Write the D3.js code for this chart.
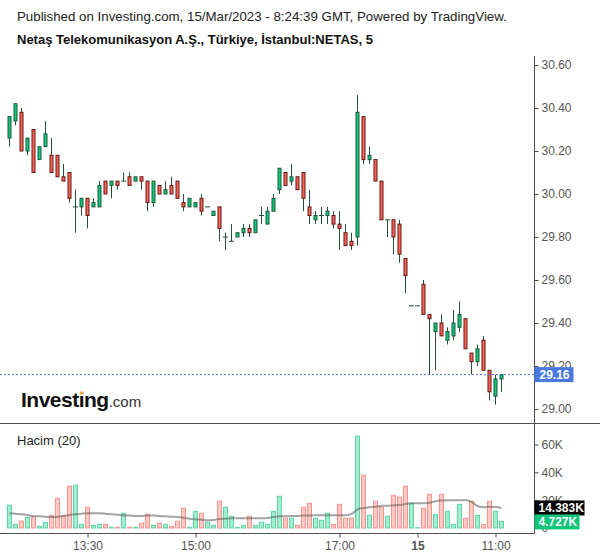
<!DOCTYPE html>
<html><head><meta charset="utf-8">
<script src="https://cdn.jsdelivr.net/npm/d3@7/dist/d3.min.js"></script>
<style>body{margin:0;background:#fff}svg{display:block;font-family:"Liberation Sans",Arial,sans-serif}</style>
</head><body>
<svg id="c" width="600" height="558"></svg>
<script>
const openP  = [30.26,30.34,30.38,30.20,30.30,30.16,30.22,30.18,30.18,30.08,30.10,29.94,29.94,29.98,29.94,29.94,30.06,30.04,30.06,30.06,30.08,30.06,30.08,30.06,29.96,30.04,30.00,30.04,30.06,29.96,29.94,29.94,29.98,29.94,29.90,29.94,29.80,29.78,29.80,29.82,29.84,29.82,29.90,29.86,29.92,30.02,30.10,30.06,30.08,30.10,29.94,29.88,29.90,29.90,29.90,29.86,29.82,29.78,29.80,30.36,30.16,30.16,30.06,29.88,29.88,29.86,29.70,29.48,29.48,29.58,29.44,29.36,29.40,29.32,29.34,29.38,29.42,29.26,29.22,29.32,29.18,29.06,29.14];
const highP  = [30.36,30.42,30.40,30.26,30.30,30.22,30.34,30.26,30.18,30.14,30.10,30.02,29.98,29.98,29.98,30.06,30.06,30.06,30.06,30.10,30.10,30.08,30.08,30.06,30.06,30.04,30.06,30.08,30.06,30.00,29.98,29.96,30.00,29.94,29.92,29.94,29.82,29.86,29.82,29.86,29.86,29.88,29.94,29.94,30.00,30.12,30.10,30.14,30.08,30.10,30.02,29.92,29.94,29.94,29.92,29.92,29.86,29.82,30.46,30.36,30.22,30.16,30.06,29.88,29.88,29.88,29.70,29.48,29.48,29.60,29.44,29.40,29.44,29.38,29.46,29.50,29.42,29.26,29.30,29.34,29.18,29.16,29.16];
const lowP   = [30.22,30.32,30.20,30.18,30.10,30.16,30.22,30.10,30.08,30.06,29.96,29.82,29.90,29.84,29.94,29.94,30.00,29.98,30.02,30.06,30.04,30.06,30.02,29.92,29.94,30.00,30.00,30.00,29.98,29.92,29.94,29.94,29.90,29.94,29.90,29.78,29.74,29.78,29.80,29.80,29.80,29.82,29.86,29.86,29.92,30.00,30.04,30.04,30.02,29.92,29.86,29.86,29.86,29.86,29.84,29.74,29.76,29.74,29.76,30.14,30.14,30.06,29.88,29.80,29.72,29.68,29.54,29.48,29.48,29.44,29.16,29.18,29.34,29.30,29.32,29.36,29.28,29.16,29.20,29.18,29.04,29.02,29.08];
const closeP = [30.36,30.42,30.20,30.26,30.10,30.22,30.28,30.10,30.08,30.06,29.98,29.94,29.98,29.90,29.96,30.04,30.00,30.06,30.04,30.06,30.04,30.08,30.06,29.96,30.06,30.00,30.02,30.00,29.98,29.94,29.98,29.96,29.92,29.94,29.92,29.84,29.80,29.78,29.82,29.84,29.82,29.88,29.90,29.92,29.98,30.12,30.04,30.08,30.02,29.98,29.90,29.90,29.90,29.92,29.86,29.84,29.76,29.76,30.38,30.16,30.18,30.06,29.88,29.88,29.80,29.72,29.62,29.48,29.48,29.44,29.42,29.40,29.34,29.36,29.40,29.44,29.28,29.22,29.28,29.18,29.08,29.14,29.16];
const volumeK = [16.3,2.6,5.0,7.7,7.7,1.2,4.1,9.1,21.3,9.0,30.0,30.7,2.6,14.9,1.9,2.6,2.6,0.5,0.5,10.6,0.5,0.5,3.4,9.8,1.9,3.4,2.6,1.2,4.8,14.2,0.5,12.0,10.6,4.1,1.9,19.2,14.9,8.4,0.3,1.9,8.4,1.9,4.1,2.6,12.0,22.8,7.0,7.0,1.9,14.9,17.7,7.0,5.5,10.6,2.6,17.0,7.0,7.0,66.0,37.9,9.1,19.2,14.9,8.4,23.5,22.1,30.0,17.7,0.2,14.2,24.2,9.8,24.2,12.0,2.6,17.0,7.0,19.2,9.1,2.6,19.2,12.0,4.727];
const volMaK = [10.6,10.3,9.8,9.4,8.6,8.4,8.1,7.9,8.1,8.6,9.4,9.8,10.3,10.6,10.6,10.6,10.3,9.8,9.6,9.1,8.9,8.6,8.6,8.9,8.9,8.6,8.4,8.1,7.9,7.4,6.7,6.2,6.0,5.5,5.8,6.5,6.7,7.0,7.0,7.0,7.0,7.0,7.0,7.2,7.9,8.4,8.4,8.6,8.6,8.9,8.9,9.1,9.1,9.1,9.1,9.1,9.1,10.1,13.4,14.4,14.9,15.3,16.0,16.0,16.3,16.5,17.3,17.7,17.7,17.7,18.2,19.2,19.7,19.9,19.9,19.9,20.1,18.7,15.8,14.9,15.3,15.1,14.383];
const timeTickIdx = [13,31,55,68,81];
const timeTickLabels = ["13:30","15:00","17:00","15","11:00"];
const priceTicks = [29.0,29.2,29.4,29.6,29.8,30.0,30.2,30.4,30.6];
const volTicks = [0,20,40,60];
const lastPrice = 29.16;
const title1 = "Published on Investing.com, 15/Mar/2023 - 8:24:39 GMT, Powered by TradingView.";
const title2 = "Netaş Telekomunikasyon A.Ş., Türkiye, İstanbul:NETAS, 5";

const svg = d3.select("#c");
const n = openP.length;
const x = d3.scaleLinear().domain([0, n-1]).range([9.5, 9.5 + 6*(n-1)]);
const y = d3.scaleLinear().domain([29.0, 30.6]).range([409, 65]);
const yv = d3.scaleLinear().domain([0, 60]).range([528, 444.5]);
const AX = 534.5;
const axisCol = "#4d4d4d";
const txtCol = "#555";

svg.append("text").attr("x",17).attr("y",21).attr("font-size",13.3).attr("fill","#222").text(title1);
svg.append("text").attr("x",17).attr("y",44).attr("font-size",13).attr("font-weight","bold").attr("fill","#111").text(title2);

// price axis
const yAxis = d3.axisRight(y).tickValues(priceTicks).tickFormat(d3.format(".2f")).tickSize(4).tickPadding(3);
const ga = svg.append("g").attr("transform",`translate(${AX},0)`).call(yAxis);
ga.select(".domain").remove();
ga.selectAll("line").attr("stroke",axisCol);
ga.selectAll("text").attr("fill",txtCol).attr("font-size",12).attr("font-family","Liberation Sans, Arial");

const vAxis = d3.axisRight(yv).tickValues(volTicks).tickFormat(d => d===0 ? "0" : d+"K").tickSize(4).tickPadding(3);
const gv = svg.append("g").attr("transform",`translate(${AX},0)`).call(vAxis);
gv.select(".domain").remove();
gv.selectAll("line").attr("stroke",axisCol);
gv.selectAll("text").attr("fill",txtCol).attr("font-size",12).attr("font-family","Liberation Sans, Arial");

// volume bars
const idx = d3.range(n);
const up = i => closeP[i] >= openP[i];
svg.append("g").selectAll("rect").data(idx).join("rect")
  .attr("x", i => x(i)-2).attr("width",4)
  .attr("y", i => yv(volumeK[i])).attr("height", i => Math.max(0, yv(0)-yv(volumeK[i])))
  .attr("fill", i => up(i) ? "#a6ecd0" : "#ffc9c5")
  .attr("stroke", i => up(i) ? "#5ad7a2" : "#f8948b").attr("stroke-width",1);
svg.append("path").datum(idx)
  .attr("d", d3.line().x(i => x(i)).y(i => yv(volMaK[i])).curve(d3.curveMonotoneX))
  .attr("fill","none").attr("stroke","rgba(90,90,90,0.55)").attr("stroke-width",2);

// candles
const gc = svg.append("g");
gc.selectAll("line.w").data(idx).join("line").attr("class","w")
  .attr("x1", i => x(i)).attr("x2", i => x(i))
  .attr("y1", i => y(highP[i])).attr("y2", i => y(lowP[i]))
  .attr("stroke","#22503a").attr("stroke-width",1);
gc.selectAll("rect").data(idx).join("rect")
  .attr("x", i => x(i)-1.5).attr("width",3)
  .attr("y", i => y(Math.max(openP[i],closeP[i])))
  .attr("height", i => Math.abs(y(openP[i])-y(closeP[i])))
  .attr("fill", i => up(i) ? "#10c77c" : "#ff6259")
  .attr("stroke", i => up(i) ? "#1d5a3a" : "#5c1a14").attr("stroke-width",1);
gc.selectAll("line.d").data(idx.filter(i => openP[i]===closeP[i])).join("line").attr("class","d")
  .attr("x1", i => x(i)-2.5).attr("x2", i => x(i)+2.5)
  .attr("y1", i => y(openP[i])).attr("y2", i => y(openP[i]))
  .attr("stroke","#22503a").attr("stroke-width",1);

// frame lines
svg.append("line").attr("x1",0).attr("x2",600).attr("y1",423.5).attr("y2",423.5).attr("stroke",axisCol);
svg.append("line").attr("x1",0).attr("x2",AX).attr("y1",533.5).attr("y2",533.5).attr("stroke",axisCol);
svg.append("line").attr("x1",AX).attr("x2",AX).attr("y1",56).attr("y2",533.5).attr("stroke",axisCol);

// time axis
const xAxis = d3.axisBottom(x).tickValues(timeTickIdx).tickFormat((d,k) => timeTickLabels[k]).tickSize(4).tickPadding(4);
const gx = svg.append("g").attr("transform","translate(0,533.5)").call(xAxis);
gx.select(".domain").remove();
gx.selectAll("line").attr("stroke",axisCol);
gx.selectAll("text").attr("fill",txtCol).attr("font-size",12).attr("font-family","Liberation Sans, Arial")
  .attr("font-weight",(d,k) => timeTickLabels[k]==="15" ? "bold" : "normal");

// last price line and labels
svg.append("line").attr("x1",0).attr("x2",AX).attr("y1",y(lastPrice)).attr("y2",y(lastPrice))
  .attr("stroke","#3f6fe0").attr("stroke-dasharray","2,2").attr("stroke-width",1);
svg.append("rect").attr("x",AX).attr("y",y(lastPrice)-7.5).attr("width",39).attr("height",15).attr("fill","#4a7ae0");
svg.append("text").attr("x",AX+5).attr("y",y(lastPrice)+4.5).attr("font-size",12).attr("font-weight","bold").attr("fill","#fff").text(lastPrice.toFixed(2));

const lastMa = volMaK[n-1], lastVol = volumeK[n-1];
svg.append("rect").attr("x",AX).attr("y",yv(lastMa)-7.5).attr("width",50).attr("height",15).attr("fill","#000");
svg.append("text").attr("x",AX+4).attr("y",yv(lastMa)+4.5).attr("font-size",12).attr("font-weight","bold").attr("fill","#fff").text(lastMa.toFixed(3)+"K");
svg.append("rect").attr("x",AX).attr("y",yv(lastVol)-7).attr("width",45).attr("height",15).attr("fill","#0ec57a");
svg.append("text").attr("x",AX+4).attr("y",yv(lastVol)+5).attr("font-size",12).attr("font-weight","bold").attr("fill","#fff").text(lastVol.toFixed(3)+"K");

// pane label
svg.append("text").attr("x",17).attr("y",445).attr("font-size",13).attr("fill","#222").text("Hacim (20)");

// logo
const logo = svg.append("text").attr("x",21).attr("y",407).attr("fill","#111");
logo.append("tspan").attr("font-size",21).attr("font-weight","bold").attr("letter-spacing","-0.5").text("Investing");
logo.append("tspan").attr("font-size",15).attr("fill","#333").text(".com");
svg.append("circle").attr("cx",81.5).attr("cy",393).attr("r",1.8).attr("fill","#f5a623");
</script>
</body></html>
